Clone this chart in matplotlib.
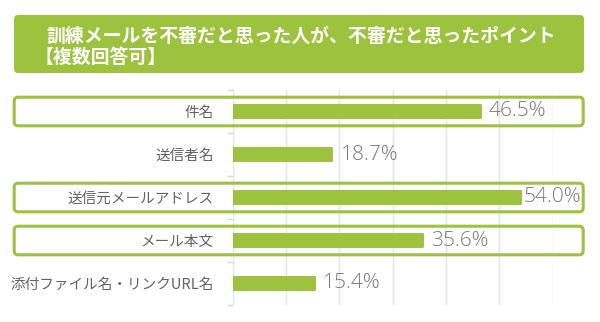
import matplotlib.pyplot as plt
from matplotlib.patches import FancyBboxPatch
from matplotlib.transforms import IdentityTransform, offset_copy

plt.rcParams['font.family'] = ['Noto Sans CJK JP', 'DejaVu Sans']

# data
categories = ['件名', '送信者名', '送信元メールアドレス', 'メール本文', '添付ファイル名・リンクURL名']
values = [46.5, 18.7, 54.0, 35.6, 15.4]
highlighted = [True, False, True, True, False]
title_line1 = '訓練メールを不審だと思った人が、不審だと思ったポイント'
title_line2 = '【複数回答可】'

GREEN = '#9DC23E'
W, H = 600, 322

fig = plt.figure(figsize=(W / 100, H / 100), dpi=100)
ident = IdentityTransform()

# title banner (pixel coords, y measured from top)
fig.patches.append(FancyBboxPatch((14, H - 73), 570, 58,
                                  boxstyle='round,pad=0,rounding_size=4',
                                  facecolor=GREEN, edgecolor='none',
                                  transform=ident, figure=fig))
fig.text(46 / W, 1 - 36 / H, title_line1, color='white', fontsize=13.6,
         fontweight='bold', ha='left', va='center')
fig.text(35 / W, 1 - 57.5 / H, title_line2, color='white', fontsize=13.6,
         fontweight='bold', ha='left', va='center')

ax = fig.add_axes([232.7 / W, 1 - 305 / H, 320 / W, 215 / H])
y = list(range(len(categories)))
bars = ax.barh(y, values, height=0.32, color=GREEN, edgecolor=GREEN,
               linewidth=1.4, zorder=3)
for b in bars:
    b.set_joinstyle('round')

ax.set_xlim(0, 60)
ax.set_ylim(len(categories) - 0.5, -0.5)
ax.set_xticks(range(0, 61, 10))
ax.tick_params(axis='x', length=0, labelbottom=False)
ax.grid(axis='x', color='#E4E4E4', linewidth=1, zorder=0)
for s in ax.spines.values():
    s.set_visible(False)

ax.set_yticks(y)
ax.set_yticklabels(categories, fontsize=10.5, color='#636363')
ax.tick_params(axis='y', which='major', length=0, pad=13.5)
ax.set_yticks([i - 0.5 for i in range(len(categories) + 1)], minor=True)
ax.tick_params(axis='y', which='minor', length=4, color='#D9D9D9', width=1)

fig.canvas.draw()
renderer = fig.canvas.get_renderer()

# value labels: right of the bar, pulled back inside if it would overflow
for i, v in enumerate(values):
    end_px, cy = ax.transData.transform((v, i))
    t = ax.text(v, i, f'{v:.1f}%', fontsize=15, color='#7A7A7A',
                family=['Open Sans', 'DejaVu Sans'], fontweight='light',
                va='center', ha='left',
                transform=offset_copy(ax.transData, fig=fig, x=8, y=0, units='dots'))
    bb = t.get_window_extent(renderer)
    if end_px + 8 + bb.width > 581:
        t.set_transform(ident)
        t.set_position((581, cy))
        t.set_ha('right')

# highlight frames round selected rows
for i, hl in enumerate(highlighted):
    if not hl:
        continue
    _, cy = ax.transData.transform((0, i))
    fig.patches.append(FancyBboxPatch((14.2, cy - 14.3), 569, 28.6,
                                      boxstyle='round,pad=0,rounding_size=4',
                                      facecolor='none', edgecolor=GREEN,
                                      linewidth=2.2, transform=ident,
                                      figure=fig, zorder=5))

fig.savefig('out.png', dpi=100)
